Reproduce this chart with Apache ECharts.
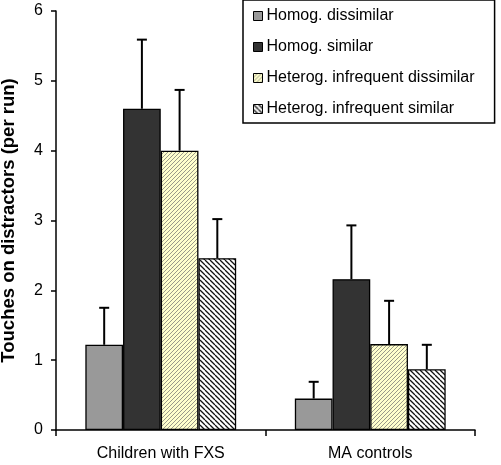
<!DOCTYPE html>
<html><head><meta charset="utf-8">
<script src="https://cdn.jsdelivr.net/npm/echarts@6/dist/echarts.min.js"></script>
<style>html,body{margin:0;padding:0;background:#fff}#c{width:501px;height:465px}</style>
</head><body><div id="c"></div>
<script>
const categories = ['Children with FXS', 'MA controls'];
const seriesNames = ['Homog. dissimilar', 'Homog. similar', 'Heterog. infrequent dissimilar', 'Heterog. infrequent similar'];
const homogDissimilar = [1.22, 0.45];
const homogSimilar = [4.60, 2.16];
const heteroDissimilar = [4.00, 1.23];
const heteroSimilar = [2.46, 0.87];
const homogDissimilarErr = [1.75, 0.69];
const homogSimilarErr = [5.59, 2.93];
const heteroDissimilarErr = [4.87, 1.85];
const heteroSimilarErr = [3.02, 1.22];
const yTicks = [0, 1, 2, 3, 4, 5, 6];

function makePattern(bg, fg, dir, size, lw) {
  const c = document.createElement('canvas');
  c.width = size; c.height = size;
  const g = c.getContext('2d');
  g.fillStyle = bg; g.fillRect(0, 0, size, size);
  g.strokeStyle = fg; g.lineWidth = lw;
  g.beginPath();
  for (let k = -1; k <= 1; k++) {
    if (dir === '/') { g.moveTo(k * size, size); g.lineTo(k * size + size, 0); }
    else { g.moveTo(k * size, 0); g.lineTo(k * size + size, size); }
  }
  g.stroke();
  return { image: c, repeat: 'repeat' };
}
const fills = [
  '#999999',
  '#333333',
  makePattern('#ffffcc', '#9a9a8a', '/', 4, 1),
  makePattern('#ffffff', '#111111', '\\', 5, 1.3)
];
const values = [homogDissimilar, homogSimilar, heteroDissimilar, heteroSimilar];
const errs = [homogDissimilarErr, homogSimilarErr, heteroDissimilarErr, heteroSimilarErr];
const BW = 0.18;

const series = [];
values.forEach((v, i) => {
  series.push({
    name: seriesNames[i], type: 'bar', data: v, barWidth: (BW * 100) + '%', barGap: '0%',
    itemStyle: { color: fills[i], borderColor: '#000', borderWidth: 1.3 },
    z: 2
  });
});
errs.forEach((e, i) => {
  series.push({
    type: 'custom', name: 'err' + i, silent: true, z: 3,
    data: e.map((hi, j) => [j, values[i][j], hi]),
    renderItem: function (params, api) {
      const band = api.size([1, 0])[0];
      const bw = band * BW;
      const off = (i - 1.5) * bw;
      const lo = api.coord([api.value(0), api.value(1)]);
      const hi = api.coord([api.value(0), api.value(2)]);
      const x = lo[0] + off;
      return { type: 'group', children: [
        { type: 'line', shape: { x1: x, y1: lo[1], x2: x, y2: hi[1] }, style: { stroke: '#000', lineWidth: 2 } },
        { type: 'line', shape: { x1: x - 5, y1: hi[1], x2: x + 5, y2: hi[1] }, style: { stroke: '#000', lineWidth: 2 } }
      ]};
    }
  });
});

const chart = echarts.init(document.getElementById('c'), null, { renderer: 'canvas' });
chart.setOption({
  animation: false,
  grid: { left: 56, right: 26, top: 11, bottom: 35, containLabel: false, outerBoundsMode: 'none' },
  legend: {
    data: seriesNames, orient: 'vertical', left: 243, top: 0, width: 249, height: 123,
    icon: 'rect', itemWidth: 9, itemHeight: 9, itemGap: 15,
    padding: [8, 20, 6, 10],
    borderColor: '#000', borderWidth: 1.5, backgroundColor: '#fff',
    textStyle: { fontFamily: 'Liberation Sans, Arial', fontSize: 16, color: '#000', padding: [0, 0, 0, -1] },
    itemStyle: { borderColor: '#000', borderWidth: 1 }
  },
  xAxis: {
    type: 'category', data: categories,
    axisLine: { lineStyle: { color: '#000', width: 1.5 } },
    axisTick: { show: true, length: 6, lineStyle: { color: '#000', width: 1.5 } },
    axisLabel: { color: '#000', fontFamily: 'Liberation Sans, Arial', fontSize: 16, margin: 16 }
  },
  yAxis: {
    type: 'value', min: yTicks[0], max: yTicks[yTicks.length - 1], interval: 1,
    name: 'Touches on distractors (per run)', nameLocation: 'middle', nameGap: 38,
    nameTextStyle: { color: '#000', fontFamily: 'Liberation Sans, Arial', fontSize: 18.5, fontWeight: 'bold' },
    axisLine: { show: true, lineStyle: { color: '#000', width: 1.5 } },
    axisTick: { show: true, length: 5, lineStyle: { color: '#000', width: 1.5 } },
    axisLabel: { color: '#000', fontFamily: 'Liberation Sans, Arial', fontSize: 16, margin: 13 },
    splitLine: { show: false }
  },
  series: series
});
</script></body></html>
